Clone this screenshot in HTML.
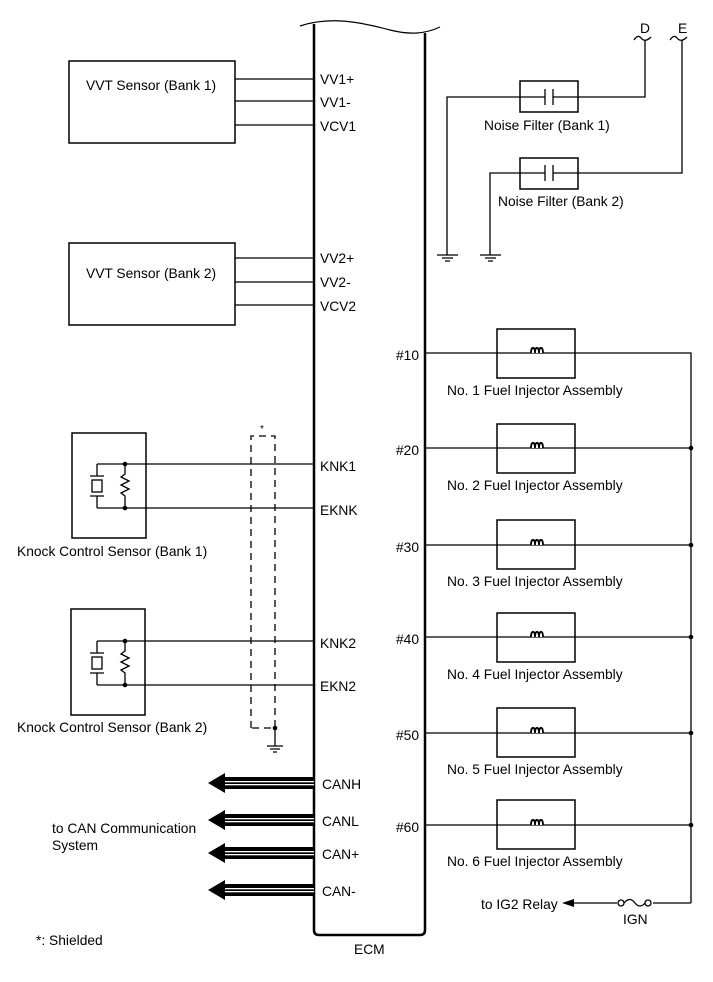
<!DOCTYPE html>
<html><head><meta charset="utf-8"><style>
html,body{margin:0;padding:0;background:#fff;}
svg{display:block;font-family:"Liberation Sans",Arial,sans-serif;font-size:13.8px;}
</style></head><body>
<svg width="713" height="982" viewBox="0 0 713 982" xmlns="http://www.w3.org/2000/svg">
<g fill="none" stroke="#000" stroke-width="1.3">
<path d="M314,24 L314,930 Q314,935 319,935 L420,935 Q425,935 425,930 L425,33" stroke-width="2.5"/>
<path d="M300,26 C330,16 360,22 390,30 C410,35 425,34 440,27" stroke-width="1.2"/>
<rect x="69" y="61" width="166" height="82" stroke-width="1.5"/>
<rect x="69" y="243" width="166" height="82" stroke-width="1.5"/>
<path d="M235,79H314M235,101H314M235,125H314M235,258H314M235,282H314M235,305H314"/>
<rect x="72" y="433" width="74" height="105" stroke-width="1.5"/>
<rect x="71" y="609" width="74" height="106" stroke-width="1.5"/>
<path d="M97,464H314M97,508H314M97,464V476M97,496V508M90,476H104M90,496H104M125,464V474L121,477L129,481L121,485L129,489L121,493L125,496V508"/>
<rect x="92" y="480" width="10" height="12"/>
<path d="M97,641H314M97,685H314M97,641V653M97,673V685M90,653H104M90,673H104M125,641V651L121,654L129,658L121,662L129,666L121,670L125,673V685"/>
<rect x="92" y="657" width="10" height="12"/>
<path d="M251,728V436H275V728H251" stroke-dasharray="7,5"/>
<path d="M275,728V746M267,746H283M270,749H280M273,752H277"/>
<rect x="520" y="81" width="58" height="31" stroke-width="1.5"/>
<rect x="520" y="158" width="58" height="31" stroke-width="1.5"/>
<path d="M447,255V97H545M553,97H645V40M545,89V105M553,89V105"/>
<path d="M490,255V173H545M553,173H682V40M545,165V181M553,165V181"/>
<path d="M634,40Q638,34 641,38Q645,43 651,37M670,40Q674,34 677,38Q681,43 687,37"/>
<path d="M437,255H458M442,258H453M445,261H450"/>
<path d="M480,255H501M485,258H496M488,261H493"/>
<path d="M425,353H691V903M425,448H691M425,545H691M425,637H691M425,733H691M425,825H691"/>
<rect x="497" y="329" width="78" height="49" stroke-width="1.5"/>
<rect x="497" y="424" width="78" height="49" stroke-width="1.5"/>
<rect x="497" y="520" width="78" height="49" stroke-width="1.5"/>
<rect x="497" y="613" width="78" height="49" stroke-width="1.5"/>
<rect x="497" y="708" width="78" height="49" stroke-width="1.5"/>
<rect x="497" y="800" width="78" height="49" stroke-width="1.5"/>
<path d="M691,903H653M617,903H570"/>
<circle cx="621" cy="903" r="3"/><circle cx="648" cy="903" r="3"/>
<path d="M624,903Q630,896 635,903Q640,909 645,903"/>
</g>
<g fill="#fff" stroke="#000" stroke-width="1.8">
<path d="M531,353c0,-7 4,-7 4,0c0,-7 4,-7 4,0c0,-7 4,-7 4,0" />
<path d="M531,448c0,-7 4,-7 4,0c0,-7 4,-7 4,0c0,-7 4,-7 4,0" />
<path d="M531,545c0,-7 4,-7 4,0c0,-7 4,-7 4,0c0,-7 4,-7 4,0" />
<path d="M531,637c0,-7 4,-7 4,0c0,-7 4,-7 4,0c0,-7 4,-7 4,0" />
<path d="M531,733c0,-7 4,-7 4,0c0,-7 4,-7 4,0c0,-7 4,-7 4,0" />
<path d="M531,825c0,-7 4,-7 4,0c0,-7 4,-7 4,0c0,-7 4,-7 4,0" />
</g>
<g fill="#000">
<circle cx="125" cy="464" r="2.3"/><circle cx="125" cy="508" r="2.3"/>
<circle cx="125" cy="641" r="2.3"/><circle cx="125" cy="685" r="2.3"/>
<circle cx="275" cy="728" r="2.3"/>
<circle cx="691" cy="448" r="2.3"/><circle cx="691" cy="545" r="2.3"/><circle cx="691" cy="637" r="2.3"/><circle cx="691" cy="733" r="2.3"/><circle cx="691" cy="825" r="2.3"/>
<path d="M562,903L574,899V907Z"/>
</g>
<g>
<g transform="translate(0,783)"><rect x="222" y="-6" width="92" height="12" fill="#000"/><rect x="222" y="-2" width="92" height="1.3" fill="#fff"/><rect x="222" y="1" width="92" height="1.3" fill="#fff"/><path d="M208,0L225,-10V10Z" fill="#000"/></g>
<g transform="translate(0,820)"><rect x="222" y="-6" width="92" height="12" fill="#000"/><rect x="222" y="-2" width="92" height="1.3" fill="#fff"/><rect x="222" y="1" width="92" height="1.3" fill="#fff"/><path d="M208,0L225,-10V10Z" fill="#000"/></g>
<g transform="translate(0,853)"><rect x="222" y="-6" width="92" height="12" fill="#000"/><rect x="222" y="-2" width="92" height="1.3" fill="#fff"/><rect x="222" y="1" width="92" height="1.3" fill="#fff"/><path d="M208,0L225,-10V10Z" fill="#000"/></g>
<g transform="translate(0,890)"><rect x="222" y="-6" width="92" height="12" fill="#000"/><rect x="222" y="-2" width="92" height="1.3" fill="#fff"/><rect x="222" y="1" width="92" height="1.3" fill="#fff"/><path d="M208,0L225,-10V10Z" fill="#000"/></g>
</g>
<g fill="#000">
<text x="86" y="90">VVT Sensor (Bank 1)</text>
<text x="86" y="278">VVT Sensor (Bank 2)</text>
<text x="320" y="84">VV1+</text><text x="320" y="107">VV1-</text><text x="320" y="131">VCV1</text>
<text x="320" y="263">VV2+</text><text x="320" y="287">VV2-</text><text x="320" y="311">VCV2</text>
<text x="320" y="471">KNK1</text><text x="320" y="515">EKNK</text>
<text x="320" y="648">KNK2</text><text x="320" y="691">EKN2</text>
<text x="17" y="556">Knock Control Sensor (Bank 1)</text>
<text x="17" y="732">Knock Control Sensor (Bank 2)</text>
<text x="260" y="432" font-size="10">*</text>
<text x="322" y="789">CANH</text><text x="322" y="826">CANL</text><text x="322" y="859">CAN+</text><text x="322" y="896">CAN-</text>
<text x="52" y="833">to CAN Communication</text><text x="52" y="850">System</text>
<text x="36" y="945">*: Shielded</text>
<text x="354" y="954">ECM</text>
<text x="640" y="33">D</text><text x="678" y="33">E</text>
<text x="484" y="130">Noise Filter (Bank 1)</text>
<text x="498" y="206">Noise Filter (Bank 2)</text>
<text x="396" y="360">#10</text><text x="396" y="455">#20</text><text x="396" y="552">#30</text><text x="396" y="644">#40</text><text x="396" y="740">#50</text><text x="396" y="832">#60</text>
<text x="447" y="395">No. 1 Fuel Injector Assembly</text>
<text x="447" y="490">No. 2 Fuel Injector Assembly</text>
<text x="447" y="586">No. 3 Fuel Injector Assembly</text>
<text x="447" y="679">No. 4 Fuel Injector Assembly</text>
<text x="447" y="774">No. 5 Fuel Injector Assembly</text>
<text x="447" y="866">No. 6 Fuel Injector Assembly</text>
<text x="481" y="909">to IG2 Relay</text>
<text x="623" y="924">IGN</text>
</g>
</svg>
</body></html>
